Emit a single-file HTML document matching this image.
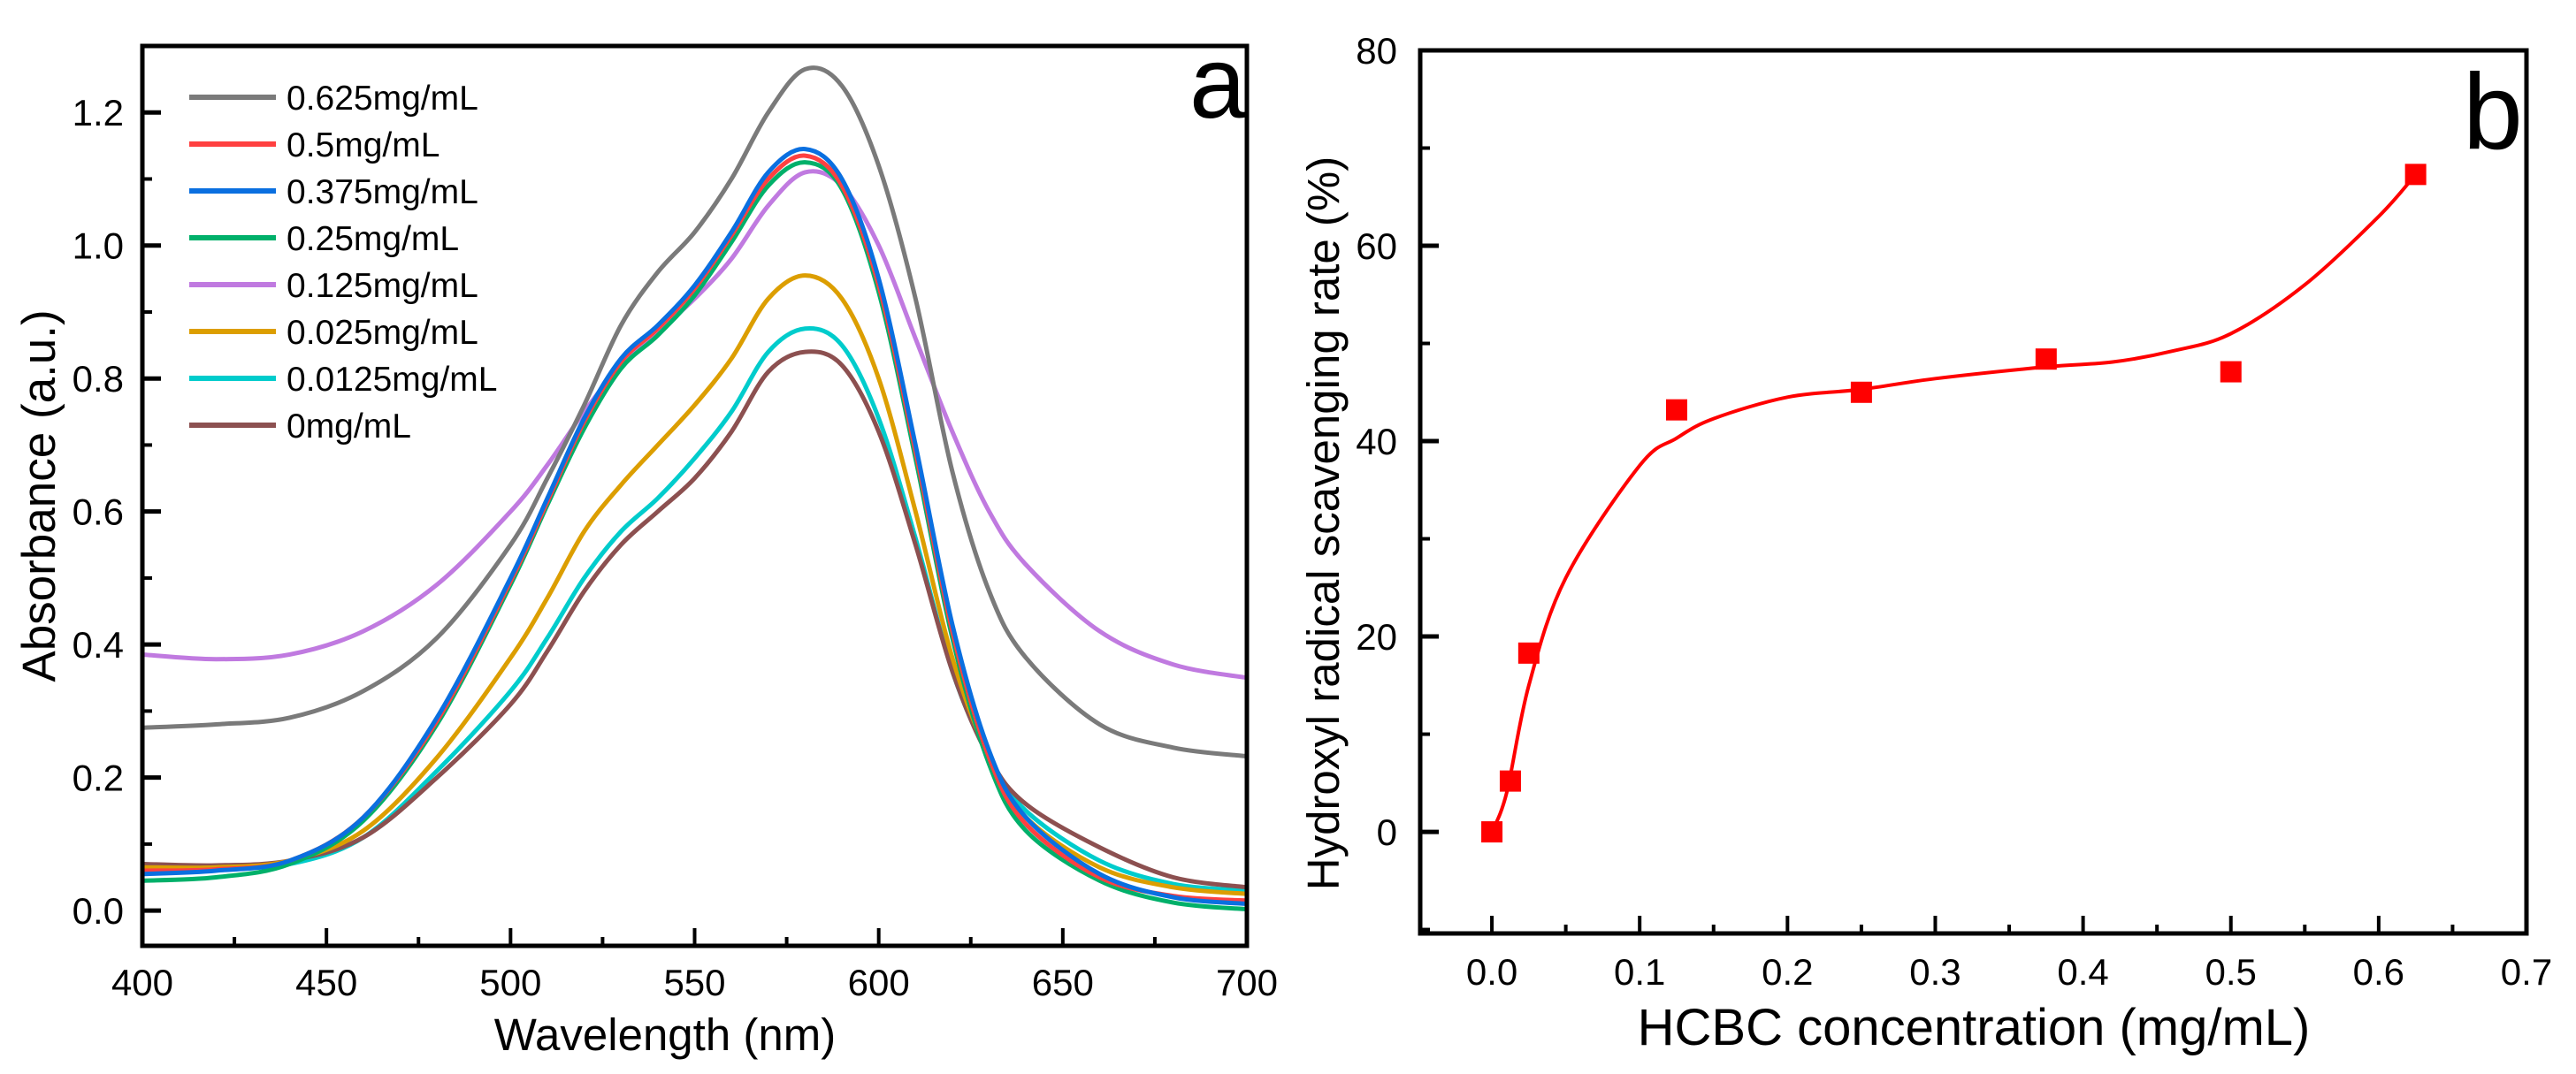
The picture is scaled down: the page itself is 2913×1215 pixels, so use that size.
<!DOCTYPE html>
<html><head><meta charset="utf-8"><style>
body{margin:0;background:#fff}
svg{display:block;font-family:"Liberation Sans",Arial,sans-serif}
</style></head><body>
<svg id="fig" width="2913" height="1215" viewBox="0 0 2913 1215" xmlns="http://www.w3.org/2000/svg">
<g id="pa"></g>
<g id="pb"></g>
</svg>
<script>
const wavelengths=[400,420,440,460,480,500,510,520,530,540,550,560,570,580,590,600,610,620,630,640,660,680,700];
const s0625=[0.275,0.28,0.29,0.33,0.41,0.55,0.65,0.76,0.88,0.96,1.02,1.10,1.20,1.265,1.24,1.12,0.92,0.66,0.48,0.38,0.28,0.245,0.232];
const s05=[0.06,0.062,0.075,0.14,0.285,0.495,0.615,0.735,0.825,0.875,0.935,1.015,1.10,1.135,1.09,0.94,0.69,0.42,0.23,0.13,0.05,0.022,0.015];
const s0375=[0.055,0.06,0.075,0.14,0.29,0.50,0.62,0.74,0.83,0.88,0.94,1.02,1.11,1.145,1.10,0.95,0.70,0.43,0.24,0.14,0.055,0.02,0.01];
const s025=[0.045,0.05,0.07,0.135,0.28,0.49,0.61,0.725,0.815,0.865,0.925,1.005,1.09,1.125,1.085,0.93,0.68,0.41,0.22,0.12,0.045,0.012,0.002];
const s0125=[0.385,0.378,0.385,0.42,0.49,0.60,0.67,0.75,0.82,0.87,0.92,0.98,1.06,1.11,1.09,1.0,0.86,0.72,0.60,0.52,0.42,0.37,0.35];
const s0025=[0.065,0.065,0.075,0.12,0.23,0.38,0.47,0.57,0.64,0.70,0.76,0.83,0.92,0.955,0.92,0.80,0.60,0.38,0.23,0.14,0.065,0.035,0.025];
const s00125=[0.07,0.065,0.07,0.11,0.21,0.33,0.41,0.50,0.57,0.62,0.68,0.75,0.84,0.875,0.85,0.74,0.56,0.36,0.23,0.15,0.075,0.04,0.03];
const s0=[0.07,0.068,0.075,0.11,0.20,0.31,0.39,0.48,0.55,0.60,0.65,0.72,0.81,0.84,0.82,0.72,0.55,0.36,0.23,0.16,0.095,0.05,0.035];
const seriesNames=["0.625mg/mL","0.5mg/mL","0.375mg/mL","0.25mg/mL","0.125mg/mL","0.025mg/mL","0.0125mg/mL","0mg/mL"];
const seriesColors=["#7a7a7a","#ff4040","#0a6fe0","#00b06a","#c07ae0","#dc9e00","#00cccc","#8c5050"];
const absTicks=["0.0","0.2","0.4","0.6","0.8","1.0","1.2"];
const wlTicks=["400","450","500","550","600","650","700"];
const concX=[0,0.0125,0.025,0.125,0.25,0.375,0.5,0.625];
const rateY=[0,5.2,18.3,43.2,45,48.4,47.1,67.3];
const fitX=[0,0.01,0.025,0.05,0.1,0.125,0.15,0.2,0.25,0.3,0.375,0.42,0.46,0.5,0.55,0.6,0.625];
const fitY=[0,4,15,26,37.5,40.3,42.3,44.5,45.3,46.4,47.6,48.1,49.2,51,56,63,67.3];
const concTicks=["0.0","0.1","0.2","0.3","0.4","0.5","0.6","0.7"];
const rateTicks=["0","20","40","60","80"];

const NS="http://www.w3.org/2000/svg";
function mk(p,t,a){const e=document.createElementNS(NS,t);for(const k in a)e.setAttribute(k,a[k]);p.appendChild(e);return e;}
function smooth(pts){let d="M"+pts[0][0]+","+pts[0][1];for(let i=0;i<pts.length-1;i++){const p0=pts[i-1]||pts[i],p1=pts[i],p2=pts[i+1],p3=pts[i+2]||p2;d+=" C"+(p1[0]+(p2[0]-p0[0])/6)+","+(p1[1]+(p2[1]-p0[1])/6)+" "+(p2[0]-(p3[0]-p1[0])/6)+","+(p2[1]-(p3[1]-p1[1])/6)+" "+p2[0]+","+p2[1];}return d;}

// Panel a
const A={l:161,r:1410,t:52,b:1070,x0:400,x1:700,y0:-0.053,y1:1.30};
const ax=v=>A.l+(v-A.x0)/(A.x1-A.x0)*(A.r-A.l);
const ay=v=>A.b-(v-A.y0)/(A.y1-A.y0)*(A.b-A.t);
const pa=document.getElementById('pa');
const allS=[s0625,s05,s0375,s025,s0125,s0025,s00125,s0];
const drawOrder=[4,0,6,7,5,3,1,2];
const ca=mk(pa,'g',{});


drawOrder.forEach(i=>{const p=mk(ca,'path',{d:smooth(wavelengths.map((w,j)=>[ax(w),ay(allS[i][j])])),fill:'none',stroke:seriesColors[i],'stroke-width':5});

});
const fa=mk(pa,'rect',{x:A.l,y:A.t,width:A.r-A.l,height:A.b-A.t,fill:'none',stroke:'#000','stroke-width':5});


absTicks.forEach(t=>{const v=parseFloat(t),y=ay(v);mk(pa,'line',{x1:A.l,x2:A.l+21,y1:y,y2:y,stroke:'#000','stroke-width':5});
const mv=v+0.1;if(mv<1.3)mk(pa,'line',{x1:A.l,x2:A.l+11,y1:ay(mv),y2:ay(mv),stroke:'#000','stroke-width':4});
const tx=mk(pa,'text',{x:140,y:y+15,'text-anchor':'end','font-size':42});tx.textContent=t;

});
wlTicks.forEach(t=>{const v=+t,x=ax(v);mk(pa,'line',{x1:x,x2:x,y1:A.b,y2:A.b-20,stroke:'#000','stroke-width':4});
if(v<700){const xm=ax(v+25);mk(pa,'line',{x1:xm,x2:xm,y1:A.b,y2:A.b-10,stroke:'#000','stroke-width':4});}
const tx=mk(pa,'text',{x:x,y:1126,'text-anchor':'middle','font-size':42});tx.textContent=t;

});
seriesNames.forEach((n,i)=>{const y=110+i*53;const g=mk(pa,'g',{});


mk(g,'line',{x1:214,x2:312,y1:y,y2:y,stroke:seriesColors[i],'stroke-width':6});
const tx=mk(g,'text',{x:324,y:y+14,'font-size':39});tx.textContent=n;});
let t=mk(pa,'text',{x:1345,y:133,'font-size':115});t.textContent='a';


t=mk(pa,'text',{x:752,y:1188,'text-anchor':'middle','font-size':51});t.textContent='Wavelength (nm)';


t=mk(pa,'text',{x:0,y:0,'text-anchor':'middle','font-size':53,transform:'translate(62,561) rotate(-90)'});t.textContent='Absorbance (a.u.)';



// Panel b
const B={l:1606,r:2857,t:57,b:1056,x0:-0.0485,x1:0.7,y0:-10.4,y1:80};
const bx=v=>B.l+(v-B.x0)/(B.x1-B.x0)*(B.r-B.l);
const by=v=>B.b-(v-B.y0)/(B.y1-B.y0)*(B.b-B.t);
const pb=document.getElementById('pb');
const fit=mk(pb,'path',{d:smooth(fitX.map((x,i)=>[bx(x),by(fitY[i])])),fill:'none',stroke:'#ff0000','stroke-width':4});


concX.forEach((x,i)=>{const r=mk(pb,'rect',{x:bx(x)-12,y:by(rateY[i])-12,width:24,height:24,fill:'#ff0000'});

});
const fb=mk(pb,'rect',{x:B.l,y:B.t,width:B.r-B.l,height:B.b-B.t,fill:'none',stroke:'#000','stroke-width':5});


rateTicks.forEach(tk=>{const v=+tk,y=by(v);mk(pb,'line',{x1:B.l,x2:B.l+21,y1:y,y2:y,stroke:'#000','stroke-width':5});
if(v<80)mk(pb,'line',{x1:B.l,x2:B.l+11,y1:by(v+10),y2:by(v+10),stroke:'#000','stroke-width':4});
const tx=mk(pb,'text',{x:1580,y:y+15,'text-anchor':'end','font-size':42});tx.textContent=tk;

});
mk(pb,'line',{x1:B.l,x2:B.l+11,y1:by(-10),y2:by(-10),stroke:'#000','stroke-width':4});
concTicks.forEach(tk=>{const v=+tk,x=bx(v);mk(pb,'line',{x1:x,x2:x,y1:B.b,y2:B.b-20,stroke:'#000','stroke-width':4});
if(v<0.7){const xm=bx(v+0.05);mk(pb,'line',{x1:xm,x2:xm,y1:B.b,y2:B.b-10,stroke:'#000','stroke-width':4});}
const tx=mk(pb,'text',{x:x,y:1114,'text-anchor':'middle','font-size':42});tx.textContent=tk;

});
t=mk(pb,'text',{x:2785,y:168,'font-size':122});t.textContent='b';


t=mk(pb,'text',{x:2232,y:1182,'text-anchor':'middle','font-size':58});t.textContent='HCBC concentration (mg/mL)';


t=mk(pb,'text',{x:0,y:0,'text-anchor':'middle','font-size':51,transform:'translate(1514,592) rotate(-90)'});t.textContent='Hydroxyl radical scavenging rate (%)';


</script>
</body></html>
